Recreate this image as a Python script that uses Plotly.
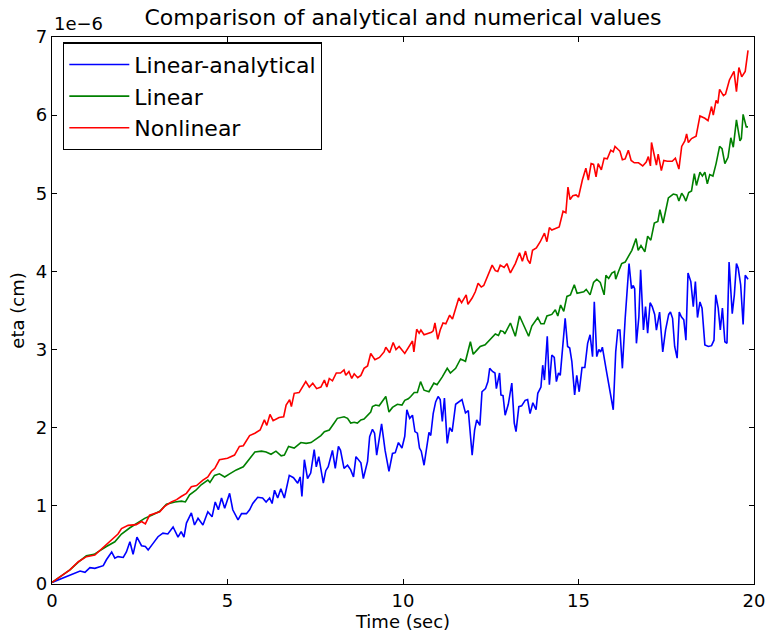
import plotly.graph_objects as go

# Values (y in units of 1e-6 cm)
blue_t = [0.0,0.23,0.51,0.8,0.94,1.08,1.22,1.46,1.55,1.7,1.79,1.88,2.03,2.12,2.22,2.31,2.42,2.55,2.66,2.74,
          2.88,3.02,3.16,3.3,3.45,3.59,3.68,3.76,3.83,3.97,4.06,4.16,4.3,4.44,4.56,4.65,4.74,4.83,4.92,5.06,
          5.15,5.3,5.4,5.54,5.63,5.72,5.86,6.0,6.1,6.2,6.27,6.34,6.43,6.52,6.62,6.76,6.88,7.0,7.07,7.12,
          7.19,7.28,7.37,7.47,7.53,7.6,7.73,7.8,7.87,7.99,8.07,8.16,8.22,8.32,8.42,8.51,8.59,8.66,8.8,8.87,
          8.99,9.05,9.13,9.19,9.25,9.33,9.39,9.49,9.6,9.7,9.78,9.87,9.97,10.05,10.11,10.19,10.27,10.34,10.41,10.47,
          10.52,10.6,10.67,10.74,10.79,10.86,10.93,11.0,11.06,11.12,11.18,11.26,11.33,11.4,11.5,11.59,11.68,11.78,11.86,11.97,
          12.04,12.1,12.19,12.25,12.35,12.42,12.47,12.55,12.62,12.66,12.75,12.79,12.85,12.91,13.0,13.1,13.17,13.22,13.3,13.38,
          13.48,13.55,13.62,13.7,13.79,13.84,13.93,13.98,14.03,14.11,14.17,14.24,14.31,14.37,14.43,14.48,14.55,14.62,14.69,14.75,
          14.81,14.89,14.95,15.02,15.1,15.18,15.26,15.33,15.4,15.45,15.52,15.58,15.63,15.68,15.79,15.86,15.93,15.99,16.06,16.12,
          16.18,16.25,16.33,16.39,16.44,16.51,16.56,16.6,16.65,16.72,16.77,16.85,16.91,16.97,17.04,17.1,17.17,17.22,17.27,17.31,
          17.4,17.48,17.57,17.62,17.68,17.74,17.81,17.87,17.93,18.0,18.06,18.12,18.2,18.27,18.33,18.39,18.46,18.52,18.6,18.7,
          18.79,18.86,18.91,18.98,19.04,19.1,19.17,19.23,19.29,19.38,19.44,19.5,19.55,19.62,19.69,19.75,19.83]
blue_v = [0.02,0.06,0.115,0.166,0.15,0.21,0.2,0.235,0.31,0.41,0.33,0.35,0.34,0.41,0.54,0.38,0.6,0.49,0.48,0.435,
          0.52,0.605,0.65,0.64,0.73,0.6,0.67,0.6,0.78,0.91,0.755,0.84,0.755,0.925,0.86,1.05,0.95,1.1,0.97,1.16,
          0.95,0.82,0.9,0.9,0.95,1.03,1.11,1.1,1.05,1.1,1.03,1.2,1.1,1.22,1.1,1.39,1.36,1.29,1.37,1.12,
          1.59,1.35,1.42,1.72,1.5,1.63,1.29,1.45,1.5,1.71,1.48,1.76,1.71,1.48,1.52,1.46,1.37,1.63,1.55,1.35,
          1.57,1.885,1.98,1.93,1.65,1.9,2.05,1.71,1.44,1.67,1.68,1.81,1.74,1.89,2.23,2.12,2.16,1.95,1.93,1.74,
          1.7,1.52,1.76,1.94,1.9,2.18,2.33,2.4,2.36,2.08,2.38,1.8,2.0,1.95,2.3,2.33,2.36,2.19,2.22,1.65,
          1.97,2.1,2.03,2.46,2.5,2.59,2.76,2.72,2.7,2.5,2.7,2.42,2.41,2.16,2.3,2.57,2.06,1.95,2.27,2.28,
          2.35,2.36,2.18,2.32,2.23,2.44,2.52,2.8,2.61,3.17,2.55,2.93,2.9,2.59,2.7,2.67,3.04,3.4,3.04,3.02,
          2.85,2.42,2.67,2.46,2.77,2.77,3.08,3.19,2.91,3.61,2.91,3.0,2.97,3.03,2.74,2.55,2.35,2.23,2.97,3.25,
          3.25,2.76,3.4,3.74,4.1,3.78,3.82,3.78,3.08,3.42,4.02,3.25,3.55,3.21,3.6,3.55,3.45,3.25,3.38,3.48,
          2.97,3.25,3.45,3.48,3.4,3.04,2.89,3.48,3.42,3.38,3.12,3.98,3.87,3.55,3.87,3.41,3.61,3.53,3.06,3.04,
          3.05,3.12,3.7,3.53,3.25,3.53,3.1,3.08,4.12,3.46,3.7,4.1,4.04,3.83,3.32,3.95,3.9]

green_t = [0.0,0.25,0.51,0.75,0.98,1.2,1.36,1.55,1.79,1.98,2.22,2.45,2.64,2.84,3.07,3.26,3.5,3.69,3.8,3.92,
           4.1,4.25,4.44,4.5,4.63,4.77,4.92,5.06,5.25,5.45,5.63,5.78,5.97,6.1,6.24,6.38,6.53,6.62,6.74,6.9,
           7.09,7.24,7.38,7.52,7.66,7.76,7.9,8.04,8.13,8.32,8.42,8.51,8.61,8.7,8.8,8.89,8.99,9.08,9.13,9.22,
           9.32,9.41,9.51,9.6,9.7,9.84,9.97,10.05,10.15,10.22,10.32,10.41,10.5,10.6,10.74,10.88,10.97,11.12,11.26,11.35,
           11.5,11.64,11.73,11.78,11.92,12.0,12.1,12.2,12.34,12.49,12.63,12.72,12.78,12.86,12.9,13.06,13.2,13.32,13.44,13.58,
           13.67,13.84,13.93,14.02,14.1,14.24,14.34,14.41,14.49,14.58,14.67,14.77,14.88,14.96,15.15,15.22,15.33,15.43,15.52,15.62,
           15.73,15.78,15.86,15.95,16.03,16.06,16.14,16.23,16.33,16.42,16.52,16.64,16.7,16.78,16.89,16.97,17.06,17.16,17.26,17.32,
           17.41,17.48,17.56,17.7,17.8,17.86,17.94,18.0,18.06,18.14,18.22,18.3,18.36,18.46,18.53,18.6,18.67,18.74,18.83,18.92,
           19.02,19.09,19.17,19.26,19.34,19.41,19.5,19.6,19.64,19.69,19.78,19.83]
green_v = [0.02,0.1,0.18,0.28,0.36,0.38,0.43,0.48,0.54,0.64,0.72,0.78,0.84,0.88,0.93,1.02,1.05,1.06,1.05,1.14,
           1.2,1.27,1.33,1.3,1.39,1.41,1.37,1.41,1.46,1.5,1.61,1.69,1.7,1.69,1.66,1.7,1.64,1.65,1.76,1.74,
           1.81,1.8,1.81,1.86,1.9,1.95,1.97,2.06,2.12,2.14,2.12,2.06,2.07,2.06,2.1,2.11,2.16,2.2,2.27,2.29,
           2.28,2.33,2.4,2.2,2.26,2.3,2.29,2.35,2.37,2.4,2.45,2.45,2.59,2.48,2.46,2.57,2.55,2.65,2.76,2.7,
           2.76,2.88,2.86,2.85,3.1,2.94,2.99,3.04,3.06,3.14,3.2,3.18,3.24,3.23,3.2,3.34,3.17,3.43,3.3,3.17,
           3.3,3.41,3.33,3.33,3.43,3.45,3.51,3.43,3.57,3.49,3.68,3.7,3.83,3.72,3.74,3.77,3.7,3.86,3.9,3.86,
           3.7,3.95,3.91,3.98,4.0,3.9,4.0,4.1,4.12,4.19,4.27,4.42,4.27,4.33,4.25,4.45,4.4,4.62,4.64,4.79,
           4.62,4.77,4.94,4.99,4.98,4.9,5.0,4.96,4.9,5.01,5.03,5.25,5.1,5.27,5.22,5.27,5.12,5.24,5.22,5.38,
           5.6,5.57,5.38,5.46,5.71,5.59,5.94,5.67,5.7,6.01,5.85,5.85]

red_t = [0.0,0.32,0.51,0.75,0.98,1.22,1.32,1.55,1.79,1.88,1.98,2.17,2.4,2.55,2.66,2.78,3.07,3.2,3.4,3.55,
         3.68,3.83,3.97,4.12,4.3,4.44,4.54,4.64,4.77,5.0,5.2,5.34,5.45,5.63,5.78,5.93,6.05,6.12,6.21,6.3,
         6.47,6.6,6.67,6.77,6.82,6.9,7.04,7.14,7.23,7.33,7.43,7.54,7.66,7.76,7.83,7.9,7.99,8.1,8.22,8.32,
         8.37,8.46,8.54,8.61,8.71,8.8,8.89,8.99,9.08,9.2,9.33,9.46,9.51,9.62,9.72,9.8,9.89,10.05,10.17,10.27,
         10.31,10.39,10.46,10.51,10.6,10.7,10.81,10.86,10.91,10.99,11.06,11.14,11.22,11.33,11.41,11.59,11.67,11.8,11.85,11.97,
         12.06,12.14,12.23,12.3,12.37,12.45,12.54,12.63,12.7,12.77,12.88,12.96,13.06,13.2,13.32,13.4,13.49,13.55,13.62,13.69,
         13.8,13.91,14.03,14.1,14.17,14.24,14.38,14.45,14.56,14.64,14.7,14.76,14.84,14.93,15.0,15.11,15.21,15.28,15.36,15.43,
         15.5,15.56,15.65,15.73,15.82,15.92,15.99,16.04,16.13,16.18,16.25,16.33,16.42,16.5,16.59,16.71,16.83,16.93,16.99,17.05,
         17.08,17.15,17.22,17.27,17.36,17.43,17.53,17.67,17.76,17.86,17.94,18.03,18.08,18.13,18.22,18.35,18.46,18.6,18.69,18.79,
         18.84,18.92,18.97,19.02,19.13,19.19,19.3,19.43,19.5,19.57,19.65,19.75,19.83]
red_v = [0.02,0.115,0.18,0.285,0.35,0.37,0.41,0.5,0.605,0.64,0.71,0.75,0.76,0.8,0.77,0.88,0.925,0.99,1.05,1.08,
         1.12,1.16,1.245,1.26,1.33,1.37,1.44,1.48,1.59,1.61,1.65,1.76,1.77,1.9,1.93,1.97,2.1,2.03,2.17,2.09,
         2.13,2.14,2.29,2.36,2.27,2.44,2.45,2.53,2.59,2.52,2.57,2.5,2.52,2.61,2.52,2.63,2.6,2.7,2.7,2.74,
         2.67,2.72,2.63,2.69,2.64,2.67,2.76,2.79,2.95,2.87,2.9,2.97,3.03,2.96,3.09,3.0,3.04,2.95,3.04,3.11,
         2.97,3.26,3.21,3.25,3.19,3.2,3.22,3.24,3.34,3.13,3.25,3.34,3.33,3.44,3.39,3.66,3.6,3.7,3.58,3.66,
         3.74,3.85,3.8,3.82,3.89,3.97,4.08,4.01,4.0,4.08,4.05,4.1,3.98,4.1,4.24,4.13,4.26,4.15,4.1,4.27,
         4.3,4.38,4.49,4.38,4.56,4.53,4.55,4.57,4.77,4.75,5.08,4.92,4.97,4.98,4.95,5.17,5.32,5.17,5.38,5.37,
         5.21,5.38,5.3,5.45,5.44,5.55,5.53,5.6,5.56,5.54,5.43,5.44,5.55,5.42,5.39,5.39,5.35,5.4,5.47,5.35,
         5.65,5.52,5.36,5.5,5.29,5.42,5.41,5.41,5.45,5.31,5.6,5.67,5.76,5.65,5.7,5.73,5.99,5.96,5.93,6.11,
         6.0,6.19,6.15,6.33,6.25,6.27,6.45,6.56,6.3,6.61,6.49,6.56,6.83]

series_names = ["Linear-analytical", "Linear", "Nonlinear"]
series_colors = ["#0000ff", "#008000", "#ff0000"]
SCALE = 1e-6
y_ticks = [0, 1, 2, 3, 4, 5, 6, 7]
x_ticks = [0, 5, 10, 15, 20]

FONT = "DejaVu Sans"
fig = go.Figure()
for name, color, tt, vv in zip(series_names, series_colors,
                               [blue_t, green_t, red_t], [blue_v, green_v, red_v]):
    fig.add_trace(go.Scatter(x=tt, y=[v * SCALE for v in vv], mode="lines", name=name,
                             line=dict(color=color, width=1.6)))

axis_common = dict(showline=True, linecolor="black", linewidth=1.3, mirror="ticks",
                   ticks="inside", ticklen=5, tickcolor="black", tickwidth=1,
                   showgrid=False, zeroline=False, automargin=False,
                   tickfont=dict(family=FONT, size=18, color="black"))

fig.update_layout(
    width=767, height=632,
    paper_bgcolor="white", plot_bgcolor="white",
    margin=dict(l=52, r=13, t=37, b=48, autoexpand=False),
    font=dict(family=FONT, color="black"),
    title=dict(text="Comparison of analytical and numerical values",
               font=dict(family=FONT, size=22, color="black"),
               x=0.5254, xanchor="center", y=0.973, yanchor="middle", yref="container"),
    xaxis=dict(range=[0, 20], tickvals=x_ticks, ticktext=[str(v) for v in x_ticks],
               title=dict(text="Time (sec)", font=dict(family=FONT, size=18, color="black"), standoff=0),
               **axis_common),
    yaxis=dict(range=[0, 7 * SCALE], tickvals=[v * SCALE for v in y_ticks],
               ticktext=[str(v) for v in y_ticks],
               title=dict(text="eta (cm)", font=dict(family=FONT, size=18, color="black"), standoff=6),
               **axis_common),
    legend=dict(x=0.0157, y=0.99, xanchor="left", yanchor="top",
                bgcolor="white", bordercolor="black", borderwidth=1.3,
                font=dict(family=FONT, size=22, color="black"), itemwidth=60,
                tracegroupgap=0),
    showlegend=True,
)
fig.add_annotation(text="1e\u22126", xref="paper", yref="paper", x=0, y=1, xanchor="left",
                   yanchor="bottom", showarrow=False, yshift=1,
                   font=dict(family=FONT, size=18, color="black"))

fig.write_html("out.html")
